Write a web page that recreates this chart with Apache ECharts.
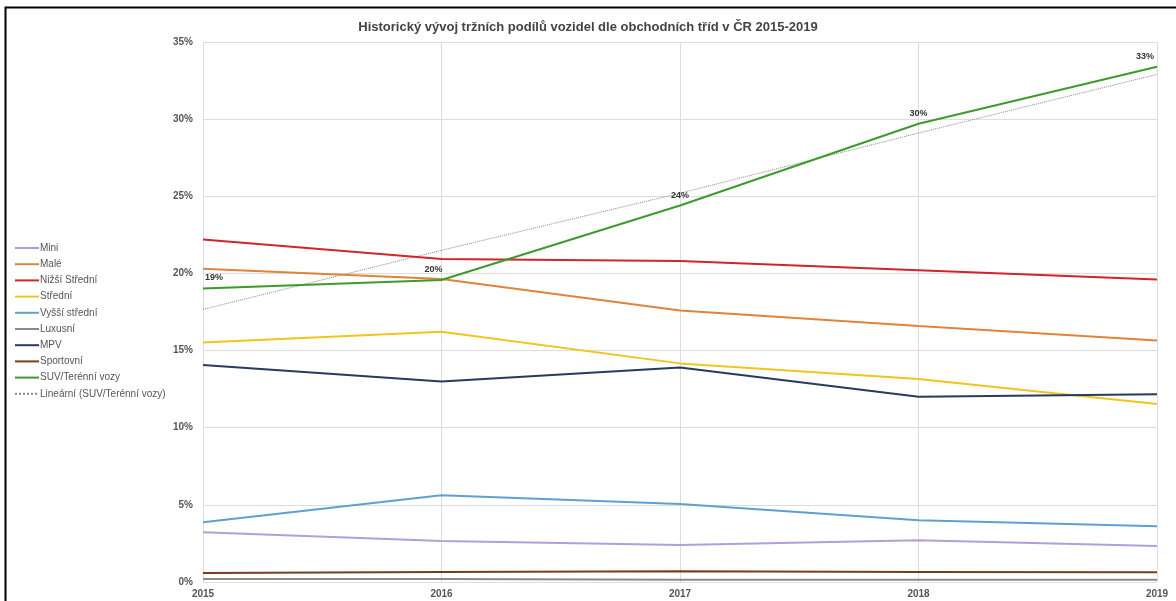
<!DOCTYPE html>
<html>
<head>
<meta charset="utf-8">
<script src="https://cdn.jsdelivr.net/npm/echarts@6/dist/echarts.min.js"></script>
<style>html,body{margin:0;padding:0;background:#fff;}#c{width:1176px;height:601px;}</style>
</head>
<body>
<div id="c"></div>
<script>
var years = ['2015','2016','2017','2018','2019'];
var yTicks = [0,5,10,15,20,25,30,35];
var mini = [3.23, 2.65, 2.40, 2.70, 2.33];
var male = [20.30, 19.64, 17.60, 16.60, 15.66];
var nizsiStredni = [22.20, 20.93, 20.80, 20.20, 19.60];
var stredni = [15.53, 16.22, 14.17, 13.16, 11.54];
var vyssiStredni = [3.88, 5.63, 5.05, 4.00, 3.62];
var luxusni = [0.20, 0.20, 0.15, 0.15, 0.15];
var mpv = [14.06, 13.00, 13.90, 12.00, 12.17];
var sportovni = [0.58, 0.65, 0.70, 0.65, 0.63];
var suv = [19.03, 19.57, 24.40, 29.70, 33.40];
var suvTrend = [17.67, 21.50, 25.20, 29.10, 32.90];

var names = ['Mini','Malé','Nižší Střední','Střední','Vyšší střední','Luxusní','MPV','Sportovní','SUV/Terénní vozy','Lineární (SUV/Terénní vozy)'];
var colors = ['#b39ddb','#e0843c','#d3232b','#f2c41c','#5f9fd3','#8a8a8a','#283a5e','#7a3d18','#3d9a2c','#888888'];
var datas = [mini, male, nizsiStredni, stredni, vyssiStredni, luxusni, mpv, sportovni, suv, suvTrend];

var labelOffsets = [[11,-2],[-8,-2],[0,-2],[0,-2],[-12,-2]];

var series = names.map(function(n, i){
  var s = {
    name: n, type: 'line', data: datas[i], symbol: 'none', smooth: false,
    lineStyle: {color: colors[i], width: i === 9 ? 1 : 2, type: i === 9 ? 'dotted' : 'solid'},
    itemStyle: {color: colors[i]},
    z: i === 9 ? 1 : 2 + i
  };
  if (i === 8) {
    s.z = 20;
    s.symbol = 'circle';
    s.symbolSize = 0;
    s.showSymbol = true;
    s.data = suv.map(function(v, k){
      return {value: v, label: {offset: labelOffsets[k]}};
    });
    s.label = {
      show: true, position: 'top', distance: 4, fontSize: 9, fontWeight: 'bold', color: '#333',
      fontFamily: 'Liberation Sans, Arial, sans-serif',
      formatter: function(p){ return Math.round(p.value) + '%'; }
    };
  }
  return s;
});

var chart = echarts.init(document.getElementById('c'));
chart.setOption({
  backgroundColor: '#fff',
  animation: false,
  title: {
    text: 'Historický vývoj tržních podílů vozidel dle obchodních tříd v ČR 2015-2019',
    left: 'center', top: 16,
    textStyle: {fontSize: 13, fontWeight: 'bold', color: '#444', fontFamily: 'Liberation Sans, Arial, sans-serif'}
  },
  legend: {
    orient: 'vertical', left: 9, top: 238,
    itemWidth: 24, itemHeight: 10, itemGap: 6.2,
    data: names,
    itemStyle: {opacity: 0},
    textStyle: {fontSize: 10, color: '#555', fontFamily: 'Liberation Sans, Arial, sans-serif', padding: [0,0,0,-4]}
  },
  grid: {left: 203, right: 19, top: 42, bottom: 19, containLabel: false},
  xAxis: {
    type: 'category', data: years, boundaryGap: false,
    axisLine: {show: false}, axisTick: {show: false},
    splitLine: {show: true, lineStyle: {color: '#dddddd', width: 1}},
    axisLabel: {fontSize: 10, fontWeight: 'bold', color: '#555', margin: 7, fontFamily: 'Liberation Sans, Arial, sans-serif'}
  },
  yAxis: {
    type: 'value', min: yTicks[0], max: yTicks[yTicks.length-1], interval: 5,
    axisLine: {show: false}, axisTick: {show: false},
    splitLine: {show: true, lineStyle: {color: '#dddddd', width: 1}},
    axisLabel: {fontSize: 10, fontWeight: 'bold', color: '#555', margin: 10, formatter: '{value}%', fontFamily: 'Liberation Sans, Arial, sans-serif'}
  },
  graphic: [{
    type: 'rect', silent: true,
    shape: {x: 5.5, y: 7.5, width: 1200, height: 700},
    style: {fill: 'none', stroke: '#000', lineWidth: 2}
  }],
  series: series
});
</script>
</body>
</html>
